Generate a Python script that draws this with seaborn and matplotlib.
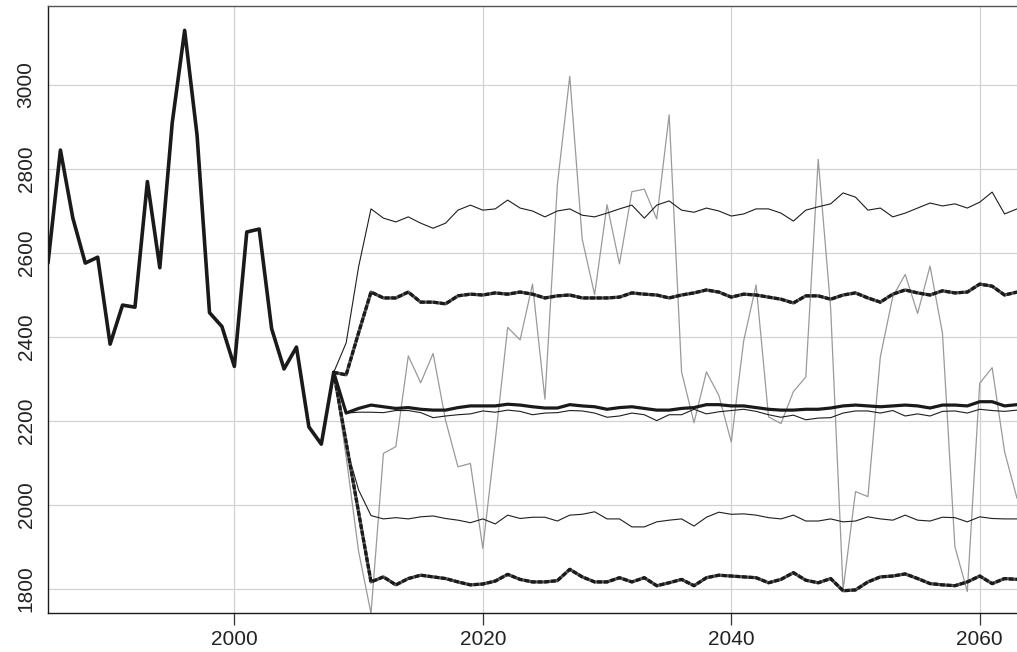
import numpy as np
import pandas as pd
import matplotlib
matplotlib.use("Agg")
import matplotlib.pyplot as plt
import seaborn as sns

# observed series 1985-2008
hist_years = list(range(1985, 2009))
hist = [2576, 2845, 2683, 2576, 2590, 2383, 2476, 2471, 2770, 2565,
        2910, 3130, 2880, 2458, 2425, 2330, 2650, 2657, 2420, 2324,
        2376, 2186, 2145, 2316]

# projections 2008-2063
fc_years = list(range(2008, 2064))
fc_mean = [2316, 2219, 2230, 2238, 2234, 2230, 2232, 2228, 2226, 2226,
           2232, 2236, 2236, 2236, 2240, 2238, 2234, 2231, 2231, 2239,
           2236, 2234, 2228, 2232, 2234, 2230, 2226, 2226, 2230, 2232,
           2239, 2239, 2236, 2236, 2232, 2228, 2226, 2226, 2228, 2228,
           2231, 2236, 2238, 2236, 2234, 2236, 2238, 2236, 2231, 2238,
           2238, 2236, 2246, 2246, 2236, 2239]
fc_median = [2316, 2219, 2221, 2221, 2220, 2225, 2225, 2220, 2208, 2212,
             2215, 2217, 2224, 2221, 2226, 2223, 2215, 2219, 2220, 2225,
             2224, 2219, 2209, 2212, 2219, 2215, 2201, 2215, 2215, 2228,
             2217, 2222, 2225, 2228, 2223, 2215, 2209, 2214, 2203, 2207,
             2208, 2219, 2224, 2224, 2219, 2225, 2212, 2217, 2212, 2223,
             2224, 2219, 2228, 2225, 2223, 2226]
hi95 = [2316, 2386, 2567, 2705, 2683, 2674, 2686, 2671, 2659, 2671,
        2702, 2714, 2702, 2705, 2726, 2707, 2700, 2686, 2700, 2705,
        2690, 2686, 2695, 2705, 2714, 2683, 2714, 2724, 2702, 2697,
        2707, 2700, 2688, 2693, 2705, 2705, 2695, 2676, 2702, 2710,
        2717, 2743, 2733, 2702, 2707, 2686, 2695, 2707, 2719, 2712,
        2717, 2707, 2721, 2745, 2693, 2705]
hi80 = [2316, 2310, 2410, 2507, 2493, 2493, 2507, 2483, 2483, 2479,
        2498, 2502, 2500, 2505, 2502, 2507, 2502, 2493, 2498, 2500,
        2493, 2493, 2493, 2495, 2505, 2502, 2500, 2493, 2500, 2505,
        2512, 2507, 2495, 2502, 2500, 2495, 2490, 2481, 2498, 2498,
        2490, 2500, 2505, 2493, 2483, 2502, 2512, 2505, 2500, 2510,
        2505, 2507, 2526, 2521, 2500, 2507]
lo95 = [2316, 2139, 2036, 1975, 1967, 1970, 1967, 1972, 1974, 1968,
        1964, 1958, 1967, 1955, 1976, 1968, 1971, 1971, 1962, 1976,
        1978, 1984, 1967, 1967, 1948, 1948, 1960, 1964, 1967, 1950,
        1971, 1983, 1978, 1979, 1976, 1970, 1967, 1976, 1962, 1962,
        1967, 1960, 1962, 1972, 1967, 1964, 1976, 1964, 1962, 1971,
        1970, 1960, 1972, 1968, 1967, 1967]
lo80 = [2316, 2149, 1983, 1817, 1829, 1810, 1825, 1833, 1829, 1825,
        1817, 1810, 1812, 1819, 1835, 1823, 1817, 1817, 1820, 1847,
        1829, 1817, 1817, 1827, 1817, 1827, 1808, 1815, 1823, 1808,
        1827, 1833, 1831, 1829, 1827, 1815, 1823, 1839, 1821, 1815,
        1825, 1796, 1798, 1817, 1829, 1831, 1836, 1825, 1813, 1810,
        1808, 1817, 1831, 1813, 1825, 1823]
sim_path = [2316, 2115, 1890, 1742, 2123, 2139, 2355, 2291, 2361, 2202,
            2091, 2099, 1897, 2153, 2423, 2393, 2526, 2252, 2762, 3021,
            2633, 2501, 2715, 2574, 2746, 2752, 2681, 2929, 2317, 2196,
            2317, 2261, 2150, 2391, 2524, 2210, 2194, 2270, 2305, 2823,
            2468, 1798, 2032, 2020, 2353, 2496, 2549, 2456, 2569, 2409,
            1901, 1794, 2290, 2327, 2127, 2016]

x_ticks = [2000, 2020, 2040, 2060]
y_ticks = [1800, 2000, 2200, 2400, 2600, 2800, 3000]

sns.set_theme(style="whitegrid")
plt.rcParams["font.family"] = ["Liberation Sans", "DejaVu Sans"]

fig = plt.figure(figsize=(10.17, 6.52), dpi=100)
ax = fig.add_axes([0.0472, 0.0598, 0.9528, 0.931])

sns.lineplot(x=fc_years, y=sim_path, ax=ax, color="#9a9a9a", lw=0.9)
sns.lineplot(x=fc_years, y=hi95, ax=ax, color="#1e1e1e", lw=0.8)
sns.lineplot(x=fc_years, y=lo95, ax=ax, color="#1e1e1e", lw=0.8)
sns.lineplot(x=fc_years, y=fc_median, ax=ax, color="#1e1e1e", lw=0.8)
for band in (hi80, lo80):
    sns.lineplot(x=fc_years, y=band, ax=ax, color="#555555", lw=2.3)
    sns.lineplot(x=fc_years, y=band, ax=ax, color="#1a1a1a", lw=2.3,
                 linestyle=(0, (1.5, 0.6)))
sns.lineplot(x=fc_years, y=fc_mean, ax=ax, color="#1a1a1a", lw=2.3)
sns.lineplot(x=hist_years, y=hist, ax=ax, color="#1a1a1a", lw=2.6)

ax.set_xlim(1985, 2063)
ax.set_ylim(1743, 3188)
ax.set_xticks(x_ticks)
ax.set_yticks(y_ticks)
ax.set_xlabel("")
ax.set_ylabel("")

ax.grid(True, color="#d2d2d2", lw=0.9)
ax.set_axisbelow(True)
ax.set_facecolor("white")
for side in ("left", "bottom"):
    ax.spines[side].set_color("#1a1a1a")
    ax.spines[side].set_linewidth(1.0)
ax.spines["top"].set_color("#555555")
ax.spines["top"].set_linewidth(1.0)
ax.spines["right"].set_visible(False)

ax.tick_params(axis="x", bottom=True, length=8.5, width=0.9, color="#333333",
               pad=3.5, labelsize=15, labelcolor="#222222")
ax.tick_params(axis="y", left=False, length=0, pad=9, labelsize=15,
               labelcolor="#222222")
for lab in ax.get_yticklabels():
    lab.set_rotation(90)
    lab.set_va("center")

fig.savefig("out.png", dpi=100, facecolor="white")
